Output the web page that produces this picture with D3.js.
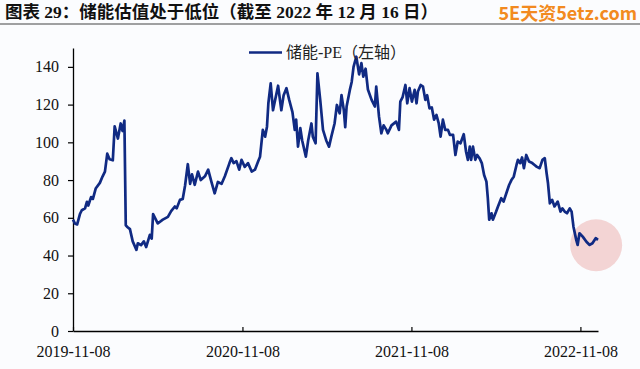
<!DOCTYPE html>
<html><head><meta charset="utf-8">
<script src="https://cdn.jsdelivr.net/npm/d3@7"></script>
<style>
html,body{margin:0;padding:0;background:#fbfcfe;}
svg{display:block;}
</style></head>
<body>
<svg id="chart" width="640" height="369"></svg>
<script>
const titleText = "图表 29：储能估值处于低位（截至 2022 年 12 月 16 日）";
const watermark = "5E天资5etz.com";
const seriesName = "储能-PE（左轴）";
const dates = [
"2019-11-08","2019-11-12","2019-11-17","2019-11-23","2019-11-27","2019-12-04","2019-12-08","2019-12-11","2019-12-17","2019-12-21","2019-12-27",
"2020-01-05","2020-01-11","2020-01-16","2020-01-21","2020-01-26","2020-02-02","2020-02-06","2020-02-13","2020-02-19","2020-02-23","2020-02-27",
"2020-03-01","2020-03-05","2020-03-10","2020-03-16","2020-03-24","2020-03-27","2020-04-03","2020-04-09","2020-04-14","2020-04-22","2020-04-26","2020-04-29",
"2020-05-09","2020-05-20","2020-05-31","2020-06-07","2020-06-15","2020-06-19","2020-06-26","2020-07-02","2020-07-07","2020-07-13","2020-07-18","2020-07-22","2020-07-28",
"2020-08-04","2020-08-10","2020-08-19","2020-08-26","2020-09-02","2020-09-09","2020-09-16","2020-09-24","2020-10-01","2020-10-11","2020-10-15","2020-10-20","2020-10-26",
"2020-11-01","2020-11-06","2020-11-13","2020-11-20","2020-11-28","2020-12-05","2020-12-12","2020-12-16","2020-12-22","2020-12-27","2020-12-31",
"2021-01-03","2021-01-08","2021-01-13","2021-01-24","2021-01-31","2021-02-05","2021-02-11","2021-02-17","2021-02-24","2021-03-01","2021-03-04","2021-03-08",
"2021-03-13","2021-03-17","2021-03-25","2021-03-30","2021-04-06","2021-04-09","2021-04-15","2021-04-19","2021-04-25","2021-05-01","2021-05-08","2021-05-14",
"2021-05-19","2021-05-26","2021-05-31","2021-06-06","2021-06-10","2021-06-15","2021-06-18","2021-06-21","2021-06-28","2021-07-02","2021-07-06","2021-07-12",
"2021-07-18","2021-07-23","2021-07-27","2021-08-01","2021-08-06","2021-08-14","2021-08-21","2021-08-24","2021-08-30","2021-09-04","2021-09-09","2021-09-15",
"2021-09-18","2021-09-26","2021-10-06","2021-10-12","2021-10-15","2021-10-20","2021-10-26","2021-10-30","2021-11-04","2021-11-09","2021-11-15","2021-11-19",
"2021-11-22","2021-11-28","2021-12-03","2021-12-08","2021-12-12","2021-12-17","2021-12-22","2021-12-27",
"2022-01-01","2022-01-06","2022-01-10","2022-01-15","2022-01-20","2022-01-26","2022-01-30","2022-02-06","2022-02-11","2022-02-16","2022-02-22",
"2022-03-01","2022-03-06","2022-03-10","2022-03-14","2022-03-17","2022-03-21","2022-03-26","2022-03-30","2022-04-04","2022-04-09","2022-04-14","2022-04-19",
"2022-04-22","2022-04-25","2022-04-30","2022-05-03","2022-05-10","2022-05-14","2022-05-21","2022-05-26","2022-06-01","2022-06-07","2022-06-12","2022-06-17",
"2022-06-23","2022-06-26","2022-07-01","2022-07-05","2022-07-09","2022-07-14","2022-07-20","2022-07-27","2022-08-01","2022-08-06","2022-08-12","2022-08-18",
"2022-08-23","2022-08-27","2022-08-30","2022-09-03","2022-09-08","2022-09-13","2022-09-20","2022-09-26","2022-09-30","2022-10-05","2022-10-10","2022-10-16",
"2022-10-20","2022-10-24","2022-10-30","2022-11-02","2022-11-06","2022-11-13","2022-11-21","2022-11-28","2022-12-04","2022-12-11","2022-12-16"
];
const pe = [
59,57,56.5,62,64,65,68.5,66.5,71,70,75.5,
78.5,82,84.5,94,91,90.5,108.5,102,110,106,111.5,
56,55,54,47.5,43,46.5,45.5,47.5,44.5,51,49,62,
57,59,60.5,63.5,66,65,69.5,70,77,88.4,78,83,77.5,
84.5,80,82,85.5,79,73,79,78,82,89,91.6,89,90,
85.5,90.7,87,89,84.5,85.5,90,92.4,106.6,103,108.3,
120.7,131.3,117,130,117,125,128.7,122.5,116,106.6,112,97.7,
107.5,101,92.4,101,110,103,99.5,136.6,122.5,106.6,101,97.7,
103,110,119.8,115.4,125,117,108,119,127.8,132,140,145.4,
136,142,134.8,139,128,122.5,119,129.5,113.6,104.8,109,106.6,
104.8,109,111,106.6,121.6,124,130.4,120.7,128.7,121.6,127.8,120.7,
126.9,130.4,129.5,122.5,125,118,118.5,112,
114.5,110,103,112,106.6,106.6,104,104,93.3,100.4,99.5,
104.3,95,90.7,97.7,90.7,97.7,90.7,93.3,91.6,89,82.7,79.2,
70.4,59,62.4,59,63.3,66,70.4,68.6,73,77.4,80,81.8,
88,90.7,89,92,86.3,93.3,89.8,89,88,87,86.3,90.7,
91.6,83.6,78.3,67.7,69.5,66,68.6,63.3,65,63.3,62.4,65,
63.3,55.3,48.3,45.6,51.8,50,47.3,45.6,46.5,49.2,48.3
];
const yTicks = [0,20,40,60,80,100,120,140];
const xTickLabels = ["2019-11-08","2020-11-08","2021-11-08","2022-11-08"];
const highlightDate = "2022-12-12";
const highlightValue = 45.5;

const parse = d3.timeParse("%Y-%m-%d");
const data = dates.map((d,i)=>({date:parse(d), v:pe[i]}));

const svg = d3.select("#chart");
const W=640,H=369;
const m = {left:73, right:42, top:48, bottom:38};
const x = d3.scaleTime().domain([parse("2019-11-08"), parse("2022-12-16")]).range([m.left, W-m.right]);
const y = d3.scaleLinear().domain([0,150]).range([H-m.bottom, m.top]);

svg.append("rect").attr("width",W).attr("height",H).attr("fill","#fbfcfe");

// Title
svg.append("text").attr("x",5).attr("y",18)
  .attr("font-family","'Liberation Serif','Noto Sans CJK SC',serif")
  .attr("font-weight","bold").attr("font-size",17.5).attr("fill","#111")
  .text(titleText);
svg.append("line").attr("x1",0).attr("x2",W).attr("y1",24).attr("y2",24)
  .attr("stroke","#444").attr("stroke-width",1.2);
svg.append("text").attr("x",637).attr("y",20).attr("text-anchor","end")
  .attr("font-family","'Noto Sans CJK SC','Noto Sans',sans-serif")
  .attr("font-weight","bold").attr("font-size",18).attr("fill","#f28a20")
  .text(watermark);

// Highlight circle
svg.append("circle").attr("cx",x(parse(highlightDate))).attr("cy",y(highlightValue)).attr("r",26)
  .attr("fill","#f1cccc").attr("opacity",0.85);

// Y axis
const yAxis = d3.axisLeft(y).tickValues(yTicks).tickSize(5).tickPadding(9).tickSizeOuter(0);
const gy = svg.append("g").attr("transform",`translate(${m.left},0)`).call(yAxis);
gy.select(".domain").attr("stroke","#000").attr("stroke-width",1.3);
gy.selectAll(".tick line").attr("stroke","#000").attr("stroke-width",1.2);
gy.selectAll(".tick text").attr("font-family","'Liberation Serif',serif").attr("font-size",16).attr("fill","#111");

// X axis
const xAxis = d3.axisBottom(x).tickValues(xTickLabels.map(parse)).tickSize(-4).tickSizeOuter(0)
  .tickFormat(d3.timeFormat("%Y-%m-%d")).tickPadding(8);
const gx = svg.append("g").attr("transform",`translate(0,${H-m.bottom})`).call(xAxis);
gx.select(".domain").attr("stroke","#000").attr("stroke-width",1.3);
gx.selectAll(".tick line").attr("stroke","#000").attr("stroke-width",1.2);
gx.selectAll(".tick text").attr("font-family","'Liberation Serif',serif").attr("font-size",16).attr("fill","#111")
  .attr("dy","1.15em");

// Line
const line = d3.line().x(d=>x(d.date)).y(d=>y(d.v));
svg.append("path").datum(data).attr("d",line).attr("fill","none")
  .attr("stroke","#102a83").attr("stroke-width",2.7).attr("stroke-linejoin","round");

// Legend
const lg = svg.append("g");
lg.append("line").attr("x1",249).attr("x2",282).attr("y1",52.5).attr("y2",52.5)
  .attr("stroke","#102a83").attr("stroke-width",2.6);
lg.append("text").attr("x",286).attr("y",58)
  .attr("font-family","'Liberation Serif','Noto Sans CJK SC',serif")
  .attr("font-size",16).attr("fill","#222").text(seriesName);
</script>
</body></html>
